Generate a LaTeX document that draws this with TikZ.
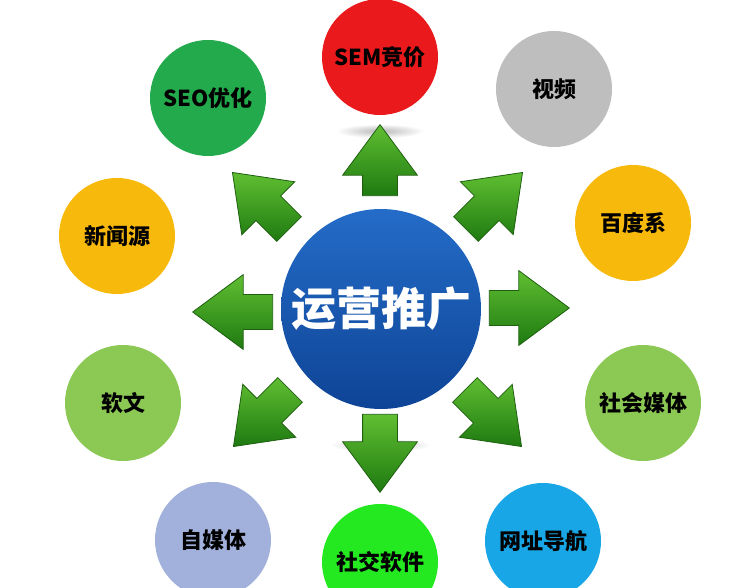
\documentclass[tikz,border=0pt]{standalone}
\usepackage{fontspec}
\newfontfamily\cjk{Noto Sans CJK SC}
\usetikzlibrary{shapes.arrows}
\definecolor{cSEO}{RGB}{34,170,76}
\definecolor{cSEM}{RGB}{234,26,28}
\definecolor{cVideo}{RGB}{190,190,190}
\definecolor{cGold}{RGB}{247,185,12}
\definecolor{cLight}{RGB}{140,200,84}
\definecolor{cLav}{RGB}{162,176,220}
\definecolor{cBright}{RGB}{36,232,32}
\definecolor{cSky}{RGB}{24,166,230}
\definecolor{blueTop}{RGB}{36,108,200}
\definecolor{blueBot}{RGB}{14,68,150}
\definecolor{arrowLight}{RGB}{96,190,50}
\definecolor{arrowMid}{RGB}{58,162,32}
\definecolor{arrowDark}{RGB}{30,122,16}
\definecolor{arrowEdge}{RGB}{30,96,16}
\begin{document}
\begin{tikzpicture}[x=1pt,y=-1pt,
  bubble/.style={circle, minimum size=116pt, inner sep=0pt,
    font=\cjk\bfseries\fontsize{22}{26}\selectfont, text=black},
  garrow/.style={single arrow, inner xsep=0pt, inner ysep=17pt,
    single arrow head extend=20pt, single arrow tip angle=73,
    draw=arrowEdge, line width=0.8pt, anchor=tip,
    top color=arrowLight, middle color=arrowMid, bottom color=arrowDark}
]
\useasboundingbox (0,0) rectangle (742,588);
\clip (0,0) rectangle (742,588);
\fill[white] (0,0) rectangle (742,588);

% outer circles
\node[bubble, fill=cSEO]    (seo)   at (208,98)  {SEO优化};
\node[bubble, fill=cSEM]    (sem)   at (380,57)  {SEM竞价};
\node[bubble, fill=cVideo]  (video) at (554,89)  {视频};
\node[bubble, fill=cGold]   (news)  at (117,236) {新闻源};
\node[bubble, fill=cGold]   (baidu) at (633,223) {百度系};
\node[bubble, fill=cLight]  (soft)  at (123,403) {软文};
\node[bubble, fill=cLight]  (social)at (643,403) {社会媒体};
\node[bubble, fill=cLav]    (self)  at (213,540) {自媒体};
\node[bubble, fill=cBright] (im)    at (380,562) {社交软件};
\node[bubble, fill=cSky]    (nav)   at (543,541) {网址导航};

% centre
\node[circle, minimum size=200pt, inner sep=0pt, top color=blueTop, bottom color=blueBot,
  font=\cjk\bfseries\fontsize{45}{50}\selectfont, text=white] (hub) at (381,309) {运营推广};

% faint shadows
\shade[inner color=black!28, outer color=white] (380,131) ellipse (44 and 7);
\shade[inner color=black!28, outer color=white] (380,445) ellipse (50 and 7);

% arrows (placed by their tips)
\node[garrow, rotate=90,  minimum height=71pt] (aN)  at (380,124) {};
\node[garrow, rotate=270, minimum height=78pt] (aS)  at (380,493) {};
\node[garrow, rotate=0,   minimum height=80pt] (aE)  at (570,308) {};
\node[garrow, rotate=180, minimum height=80pt] (aW)  at (192,312) {};
\node[garrow, rotate=45,  minimum height=80pt] (aNE) at (523,172) {};
\node[garrow, rotate=135, minimum height=80pt] (aNW) at (232,172) {};
\node[garrow, rotate=315, minimum height=80pt] (aSE) at (522,447) {};
\node[garrow, rotate=225, minimum height=80pt] (aSW) at (233,447) {};
\end{tikzpicture}
\end{document}
